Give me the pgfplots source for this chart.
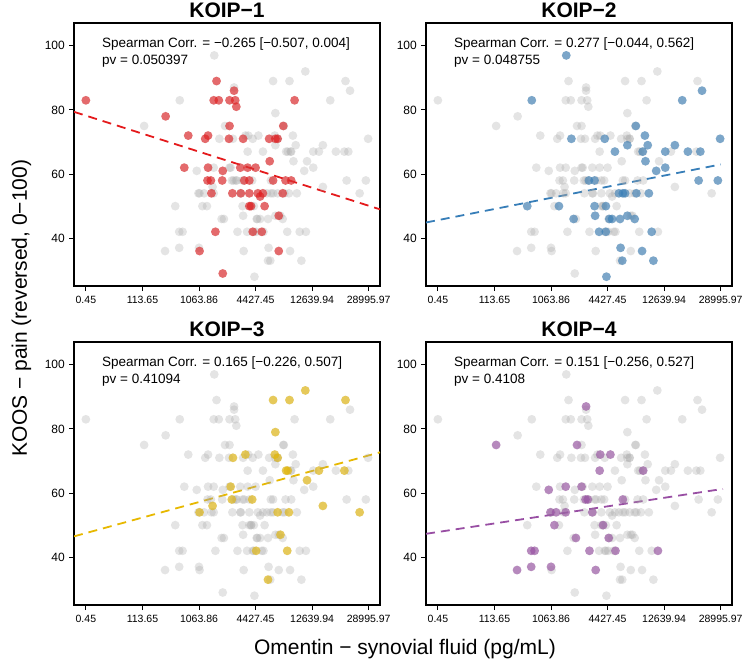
\documentclass[border=0pt]{standalone}
\usepackage{fontspec}
\setmainfont{Liberation Sans}
\usepackage{pgfplots}
\usepackage{pgfplotstable}
\pgfplotsset{compat=1.18}

\definecolor{cred}{HTML}{E41A1C}
\definecolor{cblue}{HTML}{377EB8}
\definecolor{cyel}{HTML}{E7B800}
\definecolor{cpur}{HTML}{984EA3}

\pgfplotstableread{
x y
0 83
1.41 78
1.81 72
1.74 62
2.01 36
2.11 71
2.16 72
2.31 89
2.26 83
2.35 83
2.16 62
2.15 58
2.21 58
2.22 54
2.29 42
2.42 61
2.41 58
2.42 29
2.54 75
2.53 71
2.54 83
2.62 86
2.64 83
2.66 81
2.59 54
2.74 54
2.78 71
2.73 62
2.80 58
2.89 58
2.86 62
2.89 54
3.00 62
2.89 50
2.92 50
2.95 42
3.04 54
3.13 54
3.08 53
3.16 50
3.11 42
3.24 71
3.35 71
3.39 71
3.25 64
3.31 58
3.41 47
3.41 36
3.48 54
3.49 75
3.53 58
3.63 58
3.69 83
}\koipA

\pgfplotstableread{
x y
2.27 97
1.66 83
1.58 50
2.14 50
2.36 71
2.40 46
2.67 58
2.77 58
2.77 50
2.78 47
2.95 71
2.97 50
2.85 42
2.97 42
3.03 46
3.08 46
3.22 46
3.13 67
3.20 54
3.27 54
3.31 54
3.26 33
3.23 37
3.35 69
3.35 47
3.50 75
3.48 46
3.51 54
3.62 67
3.66 72
3.67 64
3.71 69
3.73 54
3.61 36
3.78 42
3.81 33
3.86 61
4.02 67
4.02 62
4.19 69
4.32 83
4.42 67
4.61 58
4.64 67
4.67 86
4.95 58
4.99 71
2.98 28
}\koipB

\pgfplotstableread{
x y
2.01 54
2.24 56
2.56 62
2.60 71
2.58 58
2.82 72
2.94 58
3.01 42
3.22 33
3.31 89
3.35 79
3.34 72
3.39 71
3.39 54
3.44 47
3.54 67
3.57 67
3.60 89
3.59 54
3.56 42
3.91 64
3.88 92
4.12 67
4.19 56
4.59 89
4.57 67
4.84 54
}\koipC

\pgfplotstableread{
x y
1.03 75
1.40 36
1.65 37
1.65 42
1.71 42
2.00 37
1.96 61
1.99 54
2.09 54
2.06 50
2.26 62
2.26 54
2.44 46
2.46 75
2.54 62
2.62 87
2.61 58
2.65 58
2.73 54
2.68 42
2.79 36
2.86 67
2.87 72
2.92 50
3.02 46
3.05 72
3.14 42
3.27 58
3.63 67
3.89 42
}\koipD

\tikzset{annot/.style={anchor=base west, font=\fontsize{13.5}{16}\selectfont, inner sep=0pt}}

\pgfplotsset{
  panel/.style={
    scale only axis, width=306pt, height=263pt, anchor=north west,
    xmin=-0.21, xmax=5.2, ymin=25.1, ymax=107.1,
    xtick={0,1,2,3,4,5},
    xticklabels={0.45,113.65,1063.86,4427.45,12639.94,28995.97},
    ytick={40,60,80,100},
    /pgf/number format/assume math mode=true,
    tick align=outside, major tick length=5pt,
    tick style={black, line width=0.9pt},
    xtick pos=bottom, ytick pos=left,
    axis line style={black, line width=1.2pt},
    xticklabel style={font=\fontsize{10.5}{12}\selectfont, anchor=base, inner sep=0pt, yshift=-12pt},
    yticklabel style={font=\fontsize{12}{14}\selectfont, anchor=east, inner sep=0pt, xshift=-4pt},
    title style={font=\bfseries\fontsize{21}{24}\selectfont, anchor=base, at={(0.5,1)}, yshift=-0.5pt},
  },
  greypts/.style={only marks, mark=*, mark size=4.4pt, color=gray!70, mark options={draw opacity=0, fill=gray!70, fill opacity=0.3}},
  colpts/.style={only marks, mark=*, mark size=4.4pt, color=#1, mark options={draw opacity=0, fill=#1, fill opacity=0.6}},
  fitline/.style={#1, line width=1.8pt, dash pattern=on 9pt off 6pt},
}

\newcommand{\allgrey}{%
  \addplot[greypts] table {\koipA};
  \addplot[greypts] table {\koipB};
  \addplot[greypts] table {\koipC};
  \addplot[greypts] table {\koipD};
}

\begin{document}
\begin{tikzpicture}
\path[use as bounding box] (0pt,0pt) rectangle (746pt,-662pt);

\begin{axis}[panel, at={(74pt,-23pt)}, title={KOIP−1}]
\allgrey
\addplot[colpts=cred] table {\koipA};
\addplot[fitline=cred] coordinates {(-0.21,79.4) (5.2,49.0)};
\node[annot] at (rel axis cs:0.0915,0.9076) {Spearman Corr. = −0.265 [−0.507, 0.004]};
\node[annot] at (rel axis cs:0.0915,0.842) {pv = 0.050397};
\end{axis}

\begin{axis}[panel, at={(426pt,-23pt)}, title={KOIP−2}]
\allgrey
\addplot[colpts=cblue] table {\koipB};
\addplot[fitline=cblue] coordinates {(-0.21,44.9) (5.0,63.0)};
\node[annot] at (rel axis cs:0.0915,0.9076) {Spearman Corr. = 0.277 [−0.044, 0.562]};
\node[annot] at (rel axis cs:0.0915,0.842) {pv = 0.048755};
\end{axis}

\begin{axis}[panel, at={(74pt,-342pt)}, title={KOIP−3}]
\allgrey
\addplot[colpts=cyel] table {\koipC};
\addplot[fitline=cyel] coordinates {(-0.21,46.5) (5.2,72.7)};
\node[annot] at (rel axis cs:0.0915,0.9076) {Spearman Corr. = 0.165 [−0.226, 0.507]};
\node[annot] at (rel axis cs:0.0915,0.842) {pv = 0.41094};
\end{axis}

\begin{axis}[panel, at={(426pt,-342pt)}, title={KOIP−4}]
\allgrey
\addplot[colpts=cpur] table {\koipD};
\addplot[fitline=cpur] coordinates {(-0.21,47.3) (5.04,61.3)};
\node[annot] at (rel axis cs:0.0915,0.9076) {Spearman Corr. = 0.151 [−0.256, 0.527]};
\node[annot] at (rel axis cs:0.0915,0.842) {pv = 0.4108};
\end{axis}

\node[rotate=90, anchor=base, font=\fontsize{21}{24}\selectfont] at (27pt,-308pt) {KOOS − pain (reversed, 0−100)};
\node[anchor=base, font=\fontsize{21}{24}\selectfont] at (405pt,-654pt) {Omentin − synovial fluid (pg/mL)};
\end{tikzpicture}
\end{document}
